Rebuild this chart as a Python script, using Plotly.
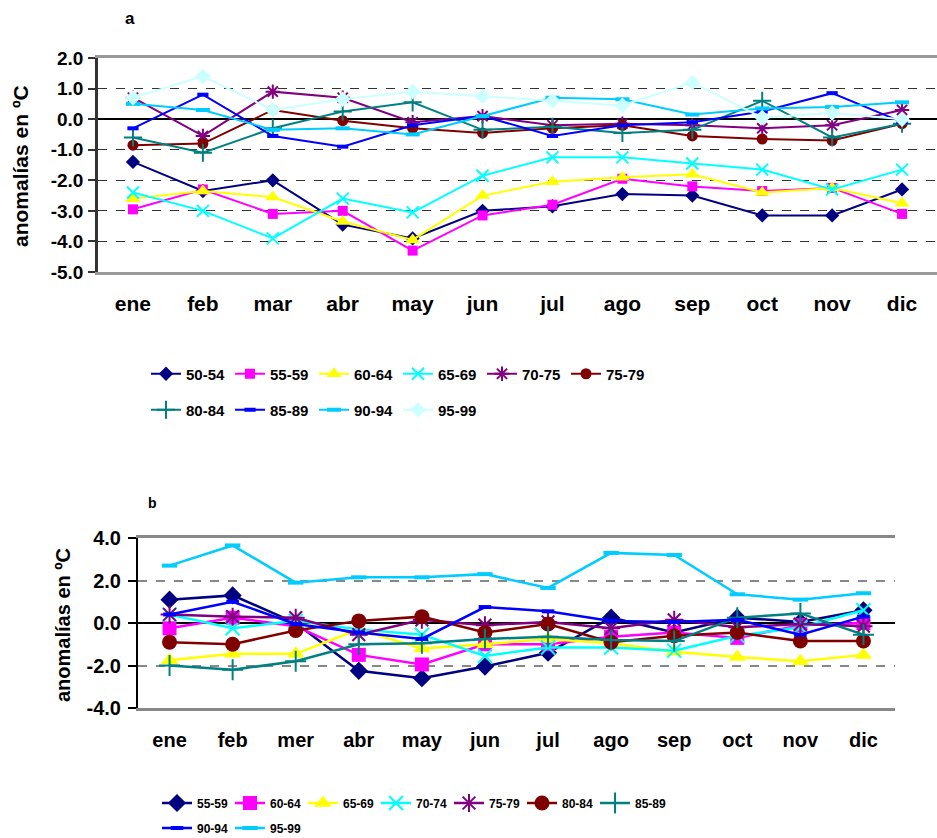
import plotly.graph_objects as go

W, H = 937, 838

months_a = ["ene", "feb", "mar", "abr", "may", "jun", "jul", "ago", "sep", "oct", "nov", "dic"]
months_b = ["ene", "feb", "mer", "abr", "may", "jun", "jul", "ago", "sep", "oct", "nov", "dic"]

names_a = ["50-54", "55-59", "60-64", "65-69", "70-75", "75-79", "80-84", "85-89", "90-94", "95-99"]
a_50_54 = [-1.4, -2.35, -2.0, -3.45, -3.9, -3.0, -2.85, -2.45, -2.5, -3.15, -3.15, -2.3]
a_55_59 = [-2.95, -2.3, -3.1, -3.0, -4.3, -3.15, -2.8, -1.95, -2.2, -2.35, -2.25, -3.1]
a_60_64 = [-2.6, -2.35, -2.55, -3.35, -3.95, -2.5, -2.05, -1.9, -1.8, -2.4, -2.25, -2.75]
a_65_69 = [-2.4, -3.0, -3.9, -2.6, -3.05, -1.85, -1.25, -1.25, -1.45, -1.65, -2.3, -1.65]
a_70_75 = [0.7, -0.55, 0.9, 0.7, -0.1, 0.1, -0.2, -0.15, -0.2, -0.3, -0.2, 0.3]
a_75_79 = [-0.85, -0.8, 0.3, -0.05, -0.3, -0.45, -0.3, -0.2, -0.55, -0.65, -0.7, -0.15]
a_80_84 = [-0.6, -1.1, -0.3, 0.25, 0.55, -0.35, -0.25, -0.45, -0.35, 0.6, -0.6, -0.15]
a_85_89 = [-0.3, 0.8, -0.55, -0.9, -0.2, 0.1, -0.55, -0.2, -0.1, 0.25, 0.85, -0.1]
a_90_94 = [0.5, 0.3, -0.35, -0.3, -0.5, 0.1, 0.7, 0.65, 0.15, 0.35, 0.4, 0.55]
a_95_99 = [0.7, 1.4, 0.3, 0.65, 0.9, 0.75, 0.6, 0.45, 1.2, 0.05, 0.2, 0.0]
series_a = [a_50_54, a_55_59, a_60_64, a_65_69, a_70_75, a_75_79, a_80_84, a_85_89, a_90_94, a_95_99]

names_b = ["55-59", "60-64", "65-69", "70-74", "75-79", "80-84", "85-89", "90-94", "95-99"]
b_55_59 = [1.1, 1.3, 0.0, -2.25, -2.6, -2.05, -1.4, 0.25, -0.45, 0.25, 0.05, 0.6]
b_60_64 = [-0.25, 0.25, -0.15, -1.5, -1.95, -1.0, -1.0, -0.65, -0.45, -0.7, -0.1, 0.0]
b_65_69 = [-1.75, -1.45, -1.45, -0.3, -1.2, -1.0, -0.75, -0.95, -1.35, -1.6, -1.8, -1.5]
b_70_74 = [0.4, -0.25, 0.1, -0.3, -0.55, -1.55, -1.15, -1.15, -1.3, -0.6, -0.2, 0.6]
b_75_79 = [0.4, 0.3, 0.25, -0.55, 0.15, -0.1, 0.05, -0.25, 0.15, -0.2, -0.05, -0.15]
b_80_84 = [-0.9, -1.0, -0.35, 0.1, 0.3, -0.45, -0.05, -0.9, -0.6, -0.45, -0.85, -0.85]
b_85_89 = [-2.0, -2.2, -1.8, -1.0, -0.95, -0.75, -0.65, -0.8, -0.85, 0.25, 0.45, -0.55]
b_90_94 = [0.4, 1.0, -0.05, -0.45, -0.75, 0.75, 0.55, 0.1, 0.05, 0.15, -0.55, 0.3]
b_95_99 = [2.7, 3.65, 1.9, 2.15, 2.15, 2.3, 1.65, 3.3, 3.2, 1.35, 1.1, 1.4]
series_b = [b_55_59, b_60_64, b_65_69, b_70_74, b_75_79, b_80_84, b_85_89, b_90_94, b_95_99]

yticks_a = [2, 1, 0, -1, -2, -3, -4, -5]
yticks_a_text = ["2.0", "1.0", "0.0", "-1.0", "-2.0", "-3.0", "-4.0", "-5.0"]
yticks_b = [4, 2, 0, -2, -4]
yticks_b_text = ["4.0", "2.0", "0.0", "-2.0", "-4.0"]

colors = ["#000080", "#FF00FF", "#FFFF00", "#00FFFF", "#800080", "#800000",
          "#008080", "#0000FF", "#00CCFF", "#CCFFFF"]
symbols = ["diamond", "square", "triangle-up", "x-thin-open", "asterisk-open", "circle",
           "cross-thin-open", "line-ew-open", "line-ew-open", "diamond"]
sizes_a = [11, 10, 13, 12, 12, 11, 13, 8, 10, 12]
sizes_b = [14, 14, 15, 14, 15, 15, 15, 9, 11]

FONT = "Liberation Sans, Arial, sans-serif"
xi = list(range(12))


def marker(i, size):
    sym = symbols[i]
    if sym.endswith("-open"):
        lw = 4 if sym.startswith("line") else 2
        return dict(symbol=sym, size=size, color=colors[i], line=dict(color=colors[i], width=lw))
    return dict(symbol=sym, size=size, color=colors[i], line=dict(width=0))


fig = go.Figure()
for i, (nm, vals) in enumerate(zip(names_a, series_a)):
    fig.add_trace(go.Scatter(x=xi, y=vals, name=nm, mode="lines+markers",
                             line=dict(color=colors[i], width=2), marker=marker(i, sizes_a[i]),
                             xaxis="x", yaxis="y", legend="legend" if i < 6 else "legend2"))
for i, (nm, vals) in enumerate(zip(names_b, series_b)):
    fig.add_trace(go.Scatter(x=xi, y=vals, name=nm, mode="lines+markers",
                             line=dict(color=colors[i], width=2.5), marker=marker(i, sizes_b[i]),
                             xaxis="x2", yaxis="y2", legend="legend3" if i < 7 else "legend4"))


def px_x(p):
    return p / W


def px_y(p):
    return (H - p) / H


a_dom_x = [px_x(98), 1.0]
a_dom_y = [px_y(272), px_y(58)]
b_dom_x = [px_x(138), px_x(895)]
b_dom_y = [px_y(708), px_y(538)]
a_zero = a_dom_y[0] + (a_dom_y[1] - a_dom_y[0]) * 5 / 7
b_zero = (b_dom_y[0] + b_dom_y[1]) / 2
bounds = [k + 0.5 for k in range(12)]

tickfont_x = dict(family=FONT, size=21, color="black", weight="bold")
tickfont_y = dict(family=FONT, size=19, color="black", weight="bold")

fig.update_layout(
    template="none",
    width=W, height=H, margin=dict(l=0, r=0, t=0, b=0, autoexpand=False),
    paper_bgcolor="white", plot_bgcolor="white", showlegend=True,
    xaxis=dict(domain=a_dom_x, anchor="y", range=[-0.5, 11.5], tickvals=xi, ticktext=months_a,
               showgrid=False, zeroline=False, showline=True, mirror=True, linecolor="#999999",
               linewidth=3, ticks="", tickfont=tickfont_x, ticklabelstandoff=11, automargin=False),
    yaxis=dict(domain=a_dom_y, anchor="x", range=[-5, 2], tickvals=yticks_a, ticktext=yticks_a_text,
               showgrid=True, gridcolor="#333333", griddash="dash", gridwidth=1,
               zeroline=True, zerolinecolor="black", zerolinewidth=1.5,
               showline=True, linecolor="#333333", linewidth=2.5,
               ticks="outside", ticklen=7, tickcolor="#333333", tickwidth=1.5,
               tickfont=tickfont_y, ticklabelstandoff=1, automargin=False),
    xaxis3=dict(overlaying="x", anchor="free", position=a_zero, range=[-0.5, 11.5],
                tickvals=bounds, ticks="outside", ticklen=6, tickcolor="#555555",
                showticklabels=False, showgrid=False, zeroline=False, showline=False, automargin=False),
    xaxis2=dict(domain=b_dom_x, anchor="y2", range=[-0.5, 11.5], tickvals=xi, ticktext=months_b,
                showgrid=False, zeroline=False, showline=True, mirror=True, linecolor="#888888",
                linewidth=2.5, ticks="", tickfont=dict(family=FONT, size=20, color="black", weight="bold"),
                ticklabelstandoff=12, automargin=False),
    yaxis2=dict(domain=b_dom_y, anchor="x2", range=[-4, 4], tickvals=yticks_b, ticktext=yticks_b_text,
                showgrid=True, gridcolor="#888888", griddash="dash", gridwidth=1.5,
                zeroline=True, zerolinecolor="black", zerolinewidth=1.5,
                showline=True, linecolor="black", linewidth=2,
                ticks="outside", ticklen=8, tickcolor="black", tickwidth=1.5,
                tickfont=dict(family=FONT, size=20, color="black", weight="bold"), ticklabelstandoff=3,
                automargin=False),
    xaxis4=dict(overlaying="x2", anchor="free", position=b_zero, range=[-0.5, 11.5],
                tickvals=bounds, ticks="outside", ticklen=5, tickcolor="black",
                showticklabels=False, showgrid=False, zeroline=False, showline=False, automargin=False),
)

leg_a_font = dict(family=FONT, size=15, color="black", weight="bold")
leg_b_font = dict(family=FONT, size=12, color="black", weight="bold")
common = dict(orientation="h", xanchor="left", yanchor="middle", bgcolor="rgba(0,0,0,0)",
              entrywidthmode="pixels", itemsizing="trace", borderwidth=0)
fig.update_layout(
    legend=dict(x=px_x(146), y=px_y(374), entrywidth=39, font=leg_a_font, **common),
    legend2=dict(x=px_x(146), y=px_y(410), entrywidth=39, font=leg_a_font, **common),
    legend3=dict(x=px_x(157), y=px_y(803), entrywidth=28, font=leg_b_font, **common),
    legend4=dict(x=px_x(157), y=px_y(828), entrywidth=28, font=leg_b_font, **common),
)

ann_common = dict(xref="paper", yref="paper", showarrow=False, xanchor="center", yanchor="middle")
fig.add_annotation(text="a", x=px_x(130), y=px_y(18),
                   font=dict(family=FONT, size=17, color="black", weight="bold"), **ann_common)
fig.add_annotation(text="b", x=px_x(152), y=px_y(503),
                   font=dict(family=FONT, size=14, color="black", weight="bold"), **ann_common)
fig.add_annotation(text="anomalías en ºC", x=px_x(20), y=px_y(166), textangle=-90,
                   font=dict(family=FONT, size=21, color="black", weight="bold"), **ann_common)
fig.add_annotation(text="anomalías en ºC", x=px_x(63), y=px_y(625), textangle=-90,
                   font=dict(family=FONT, size=20, color="black", weight="bold"), **ann_common)

fig.write_html("out.html", config={"displayModeBar": False},
               post_script="document.body.style.margin='0px';")
